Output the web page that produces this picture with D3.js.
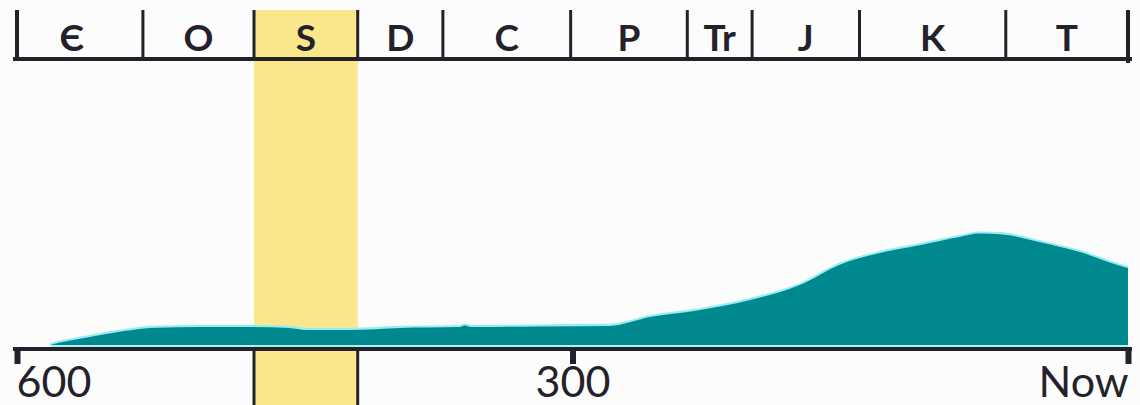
<!DOCTYPE html>
<html>
<head>
<meta charset="utf-8">
<script src="https://cdn.jsdelivr.net/npm/d3@7"></script>
<style>
  html, body { margin: 0; padding: 0; background: #fcfcfd; }
  svg { display: block; }
</style>
</head>
<body>
<svg id="chart" width="1140" height="405"></svg>
<script>
// ---- data ----
const periods = ["Є", "O", "S", "D", "C", "P", "Tr", "J", "K", "T"];
const boundaries = [600, 532, 472, 416, 370, 301, 238, 203, 145, 66, 0]; // Ma
const highlighted = "S";
const ages = [582, 578, 569, 555, 542, 528, 501, 474, 453, 444, 420, 393, 361, 358, 355, 318, 280, 258, 231, 204, 177, 156, 134, 112, 91, 80, 69, 48, 26, 4, 0];
const diversity = [0, 0.7, 1.8, 3.5, 4.9, 6.0, 6.3, 6.3, 6.0, 5.3, 5.3, 6.0, 6.3, 6.8, 6.3, 6.5, 6.7, 9.8, 12.3, 15.8, 21.1, 28.1, 32.3, 35.1, 37.9, 39.1, 38.9, 36.1, 32.6, 27.7, 27.0];
const tickValues = [600, 300, 0];
const tickLabels = ["600", "300", "Now"];

// ---- layout ----
const svg = d3.select("#chart");
const W = 1140, H = 405;
const x = d3.scaleLinear().domain([600, 0]).range([17, 1128]);
const y = d3.scaleLinear().domain([0, 100]).range([345, 60]);
const bandTop = 10, bandBottom = 59, axisY = 349;
const ink = "#24212b";

svg.append("rect").attr("width", W).attr("height", H).attr("fill", "#fcfcfd");

// highlight column
const hi = periods.indexOf(highlighted);
svg.append("rect")
  .attr("x", x(boundaries[hi])).attr("y", bandTop)
  .attr("width", x(boundaries[hi + 1]) - x(boundaries[hi]))
  .attr("height", H - bandTop)
  .attr("fill", "#fae78b");

// area
const pts = ages.map((a, i) => [a, diversity[i]]);
const area = d3.area()
  .x(d => x(d[0])).y0(y(0)).y1(d => y(d[1]))
  .curve(d3.curveMonotoneX);
const line = d3.line().x(d => x(d[0])).y(d => y(d[1])).curve(d3.curveMonotoneX);
svg.append("path").datum(pts).attr("d", line)
  .attr("fill", "none").attr("stroke", "#92eef2").attr("stroke-width", 2.5)
  .attr("transform", "translate(0,-0.8)");
svg.append("path").datum(pts).attr("d", area).attr("fill", "#00888f");
svg.append("line").attr("x1", x(ages[0])).attr("x2", x(0))
  .attr("y1", y(0) + 1).attr("y2", y(0) + 1)
  .attr("stroke", "#92eef2").attr("stroke-width", 1.5);

// top band
svg.append("line").attr("x1", 13).attr("x2", 1132)
  .attr("y1", bandBottom).attr("y2", bandBottom)
  .attr("stroke", ink).attr("stroke-width", 4);
svg.selectAll(".sep").data(boundaries).join("line")
  .attr("class", "sep")
  .attr("x1", d => x(d)).attr("x2", d => x(d))
  .attr("y1", bandTop).attr("y2", (d, i) => i === boundaries.length - 1 ? 63 : bandBottom)
  .attr("stroke", ink)
  .attr("stroke-width", (d, i) => (i === 0 || i === boundaries.length - 1) ? 4 : 3);
svg.selectAll(".plabel").data(periods).join("text")
  .attr("class", "plabel")
  .attr("x", (d, i) => (x(boundaries[i]) + x(boundaries[i + 1])) / 2 - (i === 0 ? 8 : 0))
  .attr("y", 51)
  .attr("text-anchor", "middle")
  .attr("font-family", "Lato, 'DejaVu Sans', sans-serif")
  .attr("font-weight", "bold")
  .attr("font-size", 37)
  .attr("fill", ink)
  .text(d => d);

// bottom axis
svg.append("line").attr("x1", 13).attr("x2", 1132)
  .attr("y1", axisY).attr("y2", axisY)
  .attr("stroke", ink).attr("stroke-width", 4);
[boundaries[hi], boundaries[hi + 1]].forEach(b => {
  svg.append("line").attr("x1", x(b)).attr("x2", x(b))
    .attr("y1", axisY).attr("y2", H)
    .attr("stroke", ink).attr("stroke-width", 3);
});
const axis = d3.axisBottom(x)
  .tickValues(tickValues)
  .tickSize(15)
  .tickSizeOuter(0)
  .tickPadding(3)
  .tickFormat((d, i) => tickLabels[i]);
const gAxis = svg.append("g").attr("transform", `translate(0,${axisY})`).call(axis);
gAxis.select(".domain").remove();
gAxis.selectAll(".tick line").attr("stroke", ink).attr("stroke-width", 6);
gAxis.selectAll(".tick text")
  .attr("font-family", "Lato, 'DejaVu Sans', sans-serif")
  .attr("font-size", 43)
  .attr("fill", ink)
  .attr("text-anchor", (d, i) => i === 0 ? "start" : (i === tickValues.length - 1 ? "end" : "middle"))
  .attr("dx", (d, i) => i === 0 ? -1 : 0)
  .attr("dy", "0.71em")
  .attr("y", 17);
</script>
</body>
</html>
